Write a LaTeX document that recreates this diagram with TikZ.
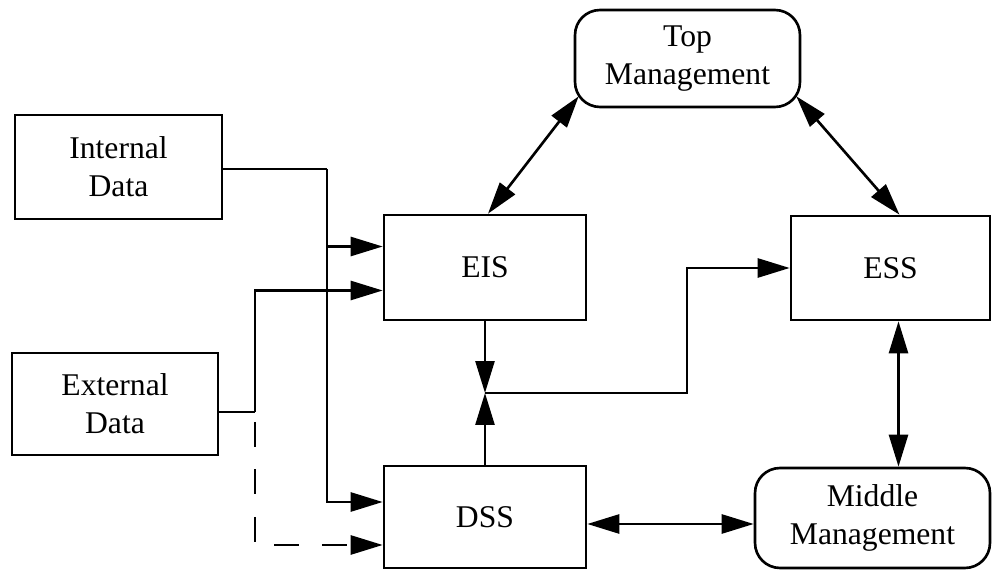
\documentclass[tikz,border=0pt]{standalone}
\usepackage{fontspec}
\setmainfont{Liberation Serif}
\usetikzlibrary{arrows.meta}
\begin{document}
\begin{tikzpicture}[x=0.02cm, y=-0.02cm,
    box/.style={draw, line width=1.5pt, inner sep=0pt, align=center,
      font=\fontsize{18}{21.5}\selectfont},
    mgmt/.style={box, rounded corners=0.5cm}]
    \tikzset{>={Triangle[length=6.4mm,width=3.8mm]}}
    \useasboundingbox (0,0) rectangle (995,570);
    \node [box, minimum width=4.14cm, minimum height=2.08cm] (intdata) at (118.5,167) {Internal\\Data};
    \node [box, minimum width=4.12cm, minimum height=2.04cm] (extdata) at (115,404) {External\\Data};
    \node [box, minimum width=4.04cm, minimum height=2.1cm] (eis) at (485,267.5) {EIS};
    \node [box, minimum width=4.04cm, minimum height=2.04cm] (dss) at (485,517) {DSS};
    \node [box, minimum width=3.98cm, minimum height=2.08cm] (ess) at (890.5,268) {ESS};
    \node [mgmt, minimum width=4.5cm, minimum height=1.94cm] (top) at (687.5,58.5) {Top\\Management};
    \node [mgmt, minimum width=4.7cm, minimum height=2cm] (midm) at (872.5,518) {Middle\\Management};
    % inputs to EIS and DSS
    \coordinate (bus) at (327,169);
    \coordinate (ext) at (255,412);
    \coordinate (eisA) at ([yshift=4.2mm]eis.west);
    \coordinate (eisB) at ([yshift=-4.6mm]eis.west);
    \coordinate (dssA) at ([yshift=3mm]dss.west);
    \coordinate (dssB) at ([yshift=-5.6mm]dss.west);
    \begin{scope}[line width=1.5pt]
    \draw (intdata.east |- bus) -- (bus);
    \draw [->] (bus) |- (dssA);
    \draw [->] (bus |- eisA) -- (eisA);
    \draw (extdata.east |- ext) -- (ext);
    \draw [->] (ext) |- (eisB);
    \draw [->, dash pattern=on 0.5cm off 0.45cm] ([yshift=-0.2cm]ext) |- (dssB);
    % EIS and DSS to ESS
    \coordinate (join) at (485,393);
    \coordinate (turn) at (687,268);
    \draw [->] (eis.south -| join) -- (join);
    \draw [->] (dss.north -| join) -- (join);
    \draw [->] (join) -| (turn) |- (ess.west);
    % management links
    \draw [<->] ([xshift=0.06cm]eis.north) -- ([shift={(1mm,2.4mm)}]top.south west);
    \draw [<->] ([shift={(-1mm,2.4mm)}]top.south east) -- ([xshift=1.8mm]ess.north);
    \draw [<->] ([xshift=1.6mm]ess.south) -- ([xshift=1.6mm]ess.south |- midm.north);
    \draw [<->] ([yshift=-1.4mm]dss.east) -- ([yshift=-1.4mm]dss.east -| midm.west);
    \end{scope}
\end{tikzpicture}
\end{document}
